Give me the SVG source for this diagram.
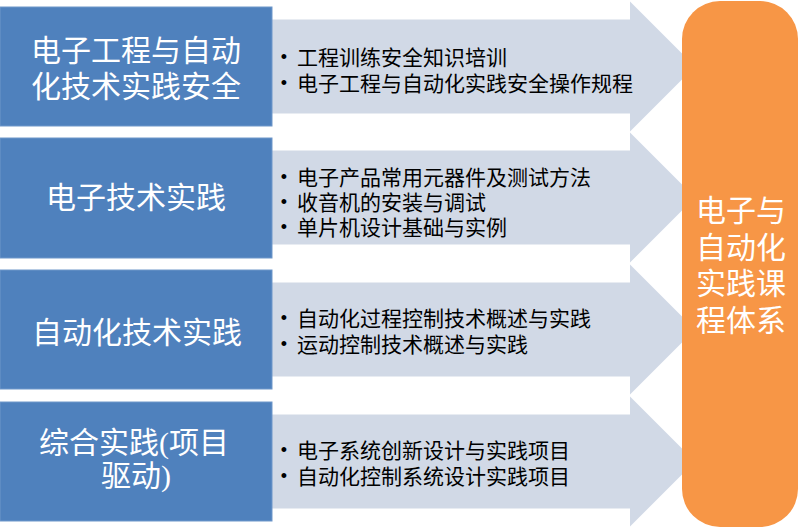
<svg xmlns="http://www.w3.org/2000/svg" width="800" height="528" viewBox="0 0 800 528">
<style>
.arrow{fill:#D1D9E6;}
.box{fill:#4F81BD;stroke:#6F97CA;stroke-width:1;}
.hub{fill:#F79646;}
.big{font-family:"Liberation Serif","Noto Sans CJK SC",sans-serif;font-size:30px;fill:#FFFFFF;text-anchor:middle;}
.hubt{font-family:"Noto Sans CJK SC",sans-serif;font-size:30px;fill:#FFFFFF;text-anchor:middle;}
.item{font-family:"Noto Sans CJK SC","Liberation Sans",sans-serif;font-size:21px;fill:#000000;}
.dot{font-family:"Liberation Sans",sans-serif;font-size:18px;fill:#000000;text-anchor:middle;}
</style>
<rect x="0" y="0" width="800" height="528" fill="#FFFFFF"/>
<g id="connectors">
<polygon class="arrow" points="272,19.5 630,19.5 630,1.5 695,66.5 630,131.5 630,113.5 272,113.5"/>
<polygon class="arrow" points="272,150.5 630,150.5 630,132.5 695,197.5 630,262.5 630,244.5 272,244.5"/>
<polygon class="arrow" points="272,282.5 630,282.5 630,264.5 695,329.5 630,394.5 630,376.5 272,376.5"/>
<polygon class="arrow" points="272,414.5 630,414.5 630,396.5 695,461.5 630,526.5 630,508.5 272,508.5"/>
</g>
<g id="items1">
<text class="dot" x="284" y="63">•</text>
<text class="item" x="297" y="65">工程训练安全知识培训</text>
<text class="dot" x="284" y="88.5">•</text>
<text class="item" x="297" y="90.5">电子工程与自动化实践安全操作规程</text>
</g>
<g id="items2">
<text class="dot" x="284" y="182.5">•</text>
<text class="item" x="297" y="184.5">电子产品常用元器件及测试方法</text>
<text class="dot" x="284" y="207.5">•</text>
<text class="item" x="297" y="209.5">收音机的安装与调试</text>
<text class="dot" x="284" y="232.5">•</text>
<text class="item" x="297" y="234.5">单片机设计基础与实例</text>
</g>
<g id="items3">
<text class="dot" x="284" y="323.5">•</text>
<text class="item" x="297" y="325.5">自动化过程控制技术概述与实践</text>
<text class="dot" x="284" y="349.5">•</text>
<text class="item" x="297" y="351.5">运动控制技术概述与实践</text>
</g>
<g id="items4">
<text class="dot" x="284" y="455.5">•</text>
<text class="item" x="297" y="457.5">电子系统创新设计与实践项目</text>
<text class="dot" x="284" y="482">•</text>
<text class="item" x="297" y="484">自动化控制系统设计实践项目</text>
</g>
<g id="node1">
<rect class="box" x="0" y="7" width="272" height="119"/>
<text class="big" x="136" y="61">电子工程与自动</text>
<text class="big" x="136" y="97">化技术实践安全</text>
</g>
<g id="node2">
<rect class="box" x="0" y="138" width="272" height="120"/>
<text class="big" x="136" y="208">电子技术实践</text>
</g>
<g id="node3">
<rect class="box" x="0" y="270" width="272" height="119"/>
<text class="big" x="137" y="343">自动化技术实践</text>
</g>
<g id="node4">
<rect class="box" x="0" y="402" width="272" height="119"/>
<text class="big" x="134" y="453">综合实践(项目</text>
<text class="big" x="136" y="486">驱动)</text>
</g>
<g id="hub">
<rect class="hub" x="682" y="1" width="116" height="526" rx="38" ry="38"/>
<text class="hubt" x="741" y="221">电子与</text>
<text class="hubt" x="741" y="258">自动化</text>
<text class="hubt" x="741" y="294">实践课</text>
<text class="hubt" x="741" y="331">程体系</text>
</g>
</svg>
